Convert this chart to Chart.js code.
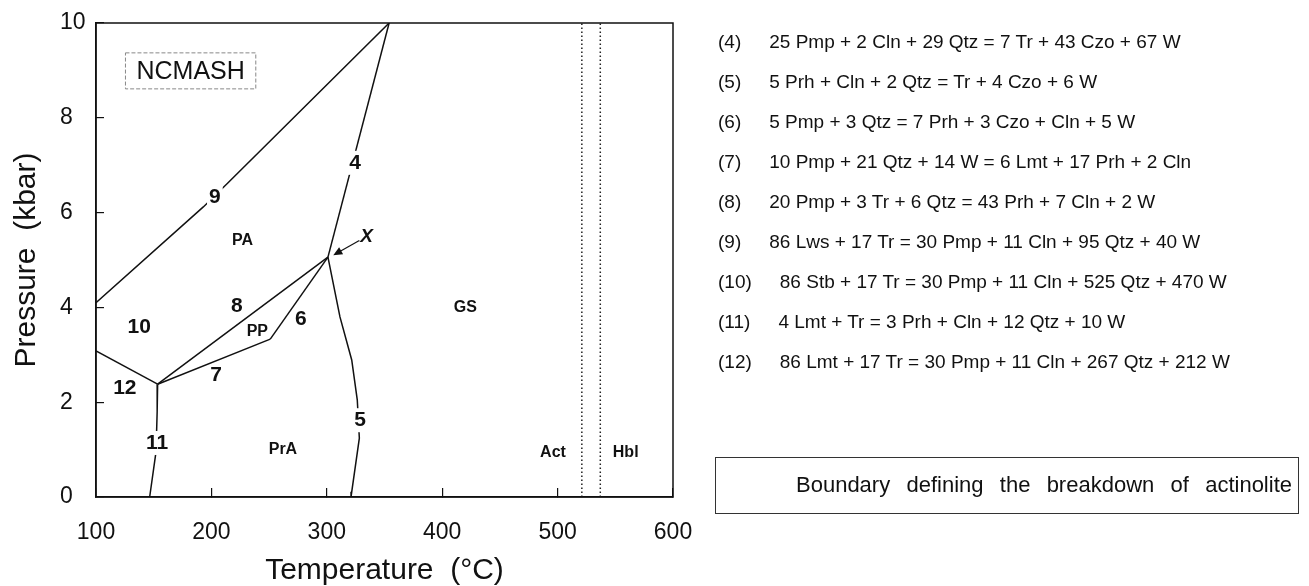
<!DOCTYPE html>
<html>
<head>
<meta charset="utf-8">
<title>NCMASH P-T diagram</title>
<script src="https://cdn.jsdelivr.net/npm/chart.js@4.4.1/dist/chart.umd.min.js"></script>
<style>
  html, body { margin: 0; padding: 0; background: #fff; }
  body { width: 1309px; height: 586px; position: relative; overflow: hidden;
         font-family: 'Liberation Sans', Arial, sans-serif; color: #111; }
  #wrap { position: absolute; left: 0; top: 0; width: 1309px; height: 586px; }
  .eq { position: absolute; left: 718px; font-size: 19px; line-height: 22px; white-space: nowrap; }
  .eq .txt { margin-left: 28px; }
  #boundary { position: absolute; left: 715px; top: 457px; width: 582px; height: 55px;
              border: 1.2px solid #333; }
  #boundary div { position: absolute; left: 80px; width: 496px; top: 15px; font-size: 22px;
                  line-height: 24px; text-align: justify; text-align-last: justify; white-space: nowrap; }
</style>
</head>
<body>
<div id="wrap"><canvas id="pt"></canvas></div>
<div id="legend"></div>
<div id="boundary"><div>Boundary defining the breakdown of actinolite</div></div>
<script>
// Axes
const tempTicks = [100, 200, 300, 400, 500, 600];
const pressTicks = [0, 2, 4, 6, 8, 10];

// Reaction curves (T in degC, P in kbar)
const line4T = [301, 354];
const line4P = [5.06, 10];
const line5T = [301, 311.4, 321.6, 326.4, 328.2, 321.6, 321];
const line5P = [5.06, 3.80, 2.89, 2.05, 1.24, 0.11, 0];
const line6T = [251, 301];
const line6P = [3.33, 5.06];
const line7T = [153.4, 251];
const line7P = [2.38, 3.33];
const line8T = [153.4, 301];
const line8P = [2.38, 5.06];
const line9T = [100, 193, 214, 354];
const line9P = [4.1, 6.12, 6.62, 10];
const line10T = [100, 153.4];
const line10P = [3.08, 2.38];
const line11T = [153.4, 153, 152, 146.5];
const line11P = [2.38, 1.8, 0.95, 0];

// Actinolite breakdown (dotted)
const actBoundT = [521, 537];
const actBoundP = [0, 10];

// Field / reaction labels
const labelText = ['9', '4', '8', '10', '6', '7', '12', '11', '5', 'PA', 'PP', 'PrA', 'GS', 'Act', 'Hbl'];
const labelT = [203, 324.5, 222, 137.5, 277.6, 204, 125, 153, 328.8, 227, 239.8, 262, 420, 496, 559];
const labelP = [6.33, 7.05, 4.03, 3.59, 3.75, 2.57, 2.29, 1.14, 1.62, 5.4, 3.5, 1.0, 4.0, 0.93, 0.93];
const gapLabels = ['9', '4', '5', '11'];

// Invariant point X and its pointer
const xLabel = 'X';
const xArrowT = [328.2, 305.6];
const xArrowP = [5.41, 5.10];
const xLabelT = 334.5;
const xLabelP = 5.48;

const systemName = 'NCMASH';
const systemT = 182;
const systemP = 8.99;

// Reactions
const eqNo = ['(4)', '(5)', '(6)', '(7)', '(8)', '(9)', '(10)', '(11)', '(12)'];
const eqText = [
  '25 Pmp + 2 Cln + 29 Qtz = 7 Tr + 43 Czo + 67 W',
  '5 Prh + Cln + 2 Qtz = Tr + 4 Czo + 6 W',
  '5 Pmp + 3 Qtz = 7 Prh + 3 Czo + Cln + 5 W',
  '10 Pmp + 21 Qtz + 14 W = 6 Lmt + 17 Prh + 2 Cln',
  '20 Pmp + 3 Tr + 6 Qtz = 43 Prh + 7 Cln + 2 W',
  '86 Lws + 17 Tr = 30 Pmp + 11 Cln + 95 Qtz + 40 W',
  '86 Stb + 17 Tr = 30 Pmp + 11 Cln + 525 Qtz + 470 W',
  '4 Lmt + Tr = 3 Prh + Cln + 12 Qtz + 10 W',
  '86 Lmt + 17 Tr = 30 Pmp + 11 Cln + 267 Qtz + 212 W'
];

const FONT = "'Liberation Sans', Arial, sans-serif";

// Legend list
const legend = document.getElementById('legend');
eqNo.forEach((n, i) => {
  const d = document.createElement('div');
  d.className = 'eq';
  d.style.top = (31 + i * 40) + 'px';
  d.innerHTML = `<span class="no">${n}</span><span class="txt">${eqText[i]}</span>`;
  legend.appendChild(d);
});

const toXY = (ts, ps) => ts.map((t, i) => ({ x: t, y: ps[i] }));

const curve = (label, ts, ps) => ({
  label: label,
  data: toXY(ts, ps),
  showLine: true,
  borderColor: '#111',
  borderWidth: 1.5,
  pointRadius: 0,
  tension: 0,
  fill: false
});

const dotted = (t) => ({
  label: 'Act boundary',
  data: toXY([t, t], actBoundP),
  showLine: true,
  borderColor: '#222',
  borderWidth: 1.5,
  borderDash: [1.5, 2.5],
  pointRadius: 0,
  fill: false
});

// Labels, box, arrow drawn on top in data coordinates
const annotations = {
  id: 'annotations',
  afterDatasetsDraw(chart) {
    const { ctx, chartArea: a, scales: { x, y } } = chart;
    ctx.save();

    // plot frame
    ctx.strokeStyle = '#111';
    ctx.lineWidth = 1.5;
    ctx.strokeRect(a.left, a.top, a.right - a.left, a.bottom - a.top);

    ctx.textAlign = 'center';
    ctx.textBaseline = 'middle';
    labelText.forEach((txt, i) => {
      const isNum = /^\d+$/.test(txt);
      ctx.font = `bold ${isNum ? 21 : 16}px ${FONT}`;
      const px = x.getPixelForValue(labelT[i]);
      const py = y.getPixelForValue(labelP[i]);
      if (gapLabels.includes(txt)) {
        const w = ctx.measureText(txt).width + 4;
        ctx.fillStyle = '#fff';
        ctx.fillRect(px - w / 2, py - 12, w, 24);
      }
      ctx.fillStyle = '#111';
      ctx.fillText(txt, px, py);
    });

    // NCMASH box
    ctx.font = `25px ${FONT}`;
    const sx = x.getPixelForValue(systemT);
    const sy = y.getPixelForValue(systemP);
    const sw = ctx.measureText(systemName).width + 22;
    ctx.fillStyle = '#111';
    ctx.fillText(systemName, sx, sy + 1);
    ctx.setLineDash([4, 2]);
    ctx.strokeStyle = '#888';
    ctx.lineWidth = 1;
    ctx.strokeRect(sx - sw / 2, sy - 18, sw, 36);
    ctx.setLineDash([]);

    // X and arrow
    ctx.font = `italic bold 19px ${FONT}`;
    ctx.fillText(xLabel, x.getPixelForValue(xLabelT), y.getPixelForValue(xLabelP));
    const x0 = x.getPixelForValue(xArrowT[0]), y0 = y.getPixelForValue(xArrowP[0]);
    const x1 = x.getPixelForValue(xArrowT[1]), y1 = y.getPixelForValue(xArrowP[1]);
    const ang = Math.atan2(y1 - y0, x1 - x0);
    ctx.strokeStyle = '#111';
    ctx.lineWidth = 1.2;
    ctx.beginPath();
    ctx.moveTo(x0, y0);
    ctx.lineTo(x1 - 6 * Math.cos(ang), y1 - 6 * Math.sin(ang));
    ctx.stroke();
    ctx.beginPath();
    ctx.moveTo(x1, y1);
    ctx.lineTo(x1 - 9 * Math.cos(ang) + 4 * Math.sin(ang), y1 - 9 * Math.sin(ang) - 4 * Math.cos(ang));
    ctx.lineTo(x1 - 9 * Math.cos(ang) - 4 * Math.sin(ang), y1 - 9 * Math.sin(ang) + 4 * Math.cos(ang));
    ctx.closePath();
    ctx.fill();

    ctx.restore();
  }
};

new Chart(document.getElementById('pt'), {
  type: 'scatter',
  data: {
    datasets: [
      curve('4', line4T, line4P),
      curve('5', line5T, line5P),
      curve('6', line6T, line6P),
      curve('7', line7T, line7P),
      curve('8', line8T, line8P),
      curve('9', line9T, line9P),
      curve('10', line10T, line10P),
      curve('11', line11T, line11P),
      dotted(actBoundT[0]),
      dotted(actBoundT[1])
    ]
  },
  options: {
    responsive: true,
    maintainAspectRatio: false,
    animation: false,
    layout: { padding: { left: 60, top: 23, right: 636, bottom: 0 } },
    plugins: { legend: { display: false }, tooltip: { enabled: false } },
    scales: {
      x: {
        type: 'linear',
        min: tempTicks[0],
        max: tempTicks[tempTicks.length - 1],
        afterBuildTicks: (s) => { s.ticks = tempTicks.map(v => ({ value: v })); },
        afterFit: (s) => { s.height = 89; },
        grid: { drawOnChartArea: false, color: '#111', tickColor: '#111', tickLength: -9, lineWidth: 1.2 },
        border: { display: true, color: '#111', width: 1.5 },
        ticks: { color: '#111', font: { family: FONT, size: 23 }, padding: 31, maxRotation: 0 },
        title: { display: true, text: 'Temperature  (\u00B0C)', color: '#111',
                 font: { family: FONT, size: 30, lineHeight: 1 }, padding: { top: 0, bottom: 0 } }
      },
      y: {
        type: 'linear',
        min: pressTicks[0],
        max: pressTicks[pressTicks.length - 1],
        afterBuildTicks: (s) => { s.ticks = pressTicks.map(v => ({ value: v })); },
        afterFit: (s) => { s.width = 36; },
        grid: { drawOnChartArea: false, color: '#111', tickColor: '#111', tickLength: -8, lineWidth: 1.2 },
        border: { display: true, color: '#111', width: 1.5 },
        ticks: { color: '#111', font: { family: FONT, size: 23 }, crossAlign: 'far' },
        title: { display: true, text: 'Pressure  (kbar)', color: '#111',
                 font: { family: FONT, size: 30, lineHeight: 1 }, padding: { top: -48, bottom: 0 } }
      }
    }
  },
  plugins: [annotations]
});
</script>
</body>
</html>
